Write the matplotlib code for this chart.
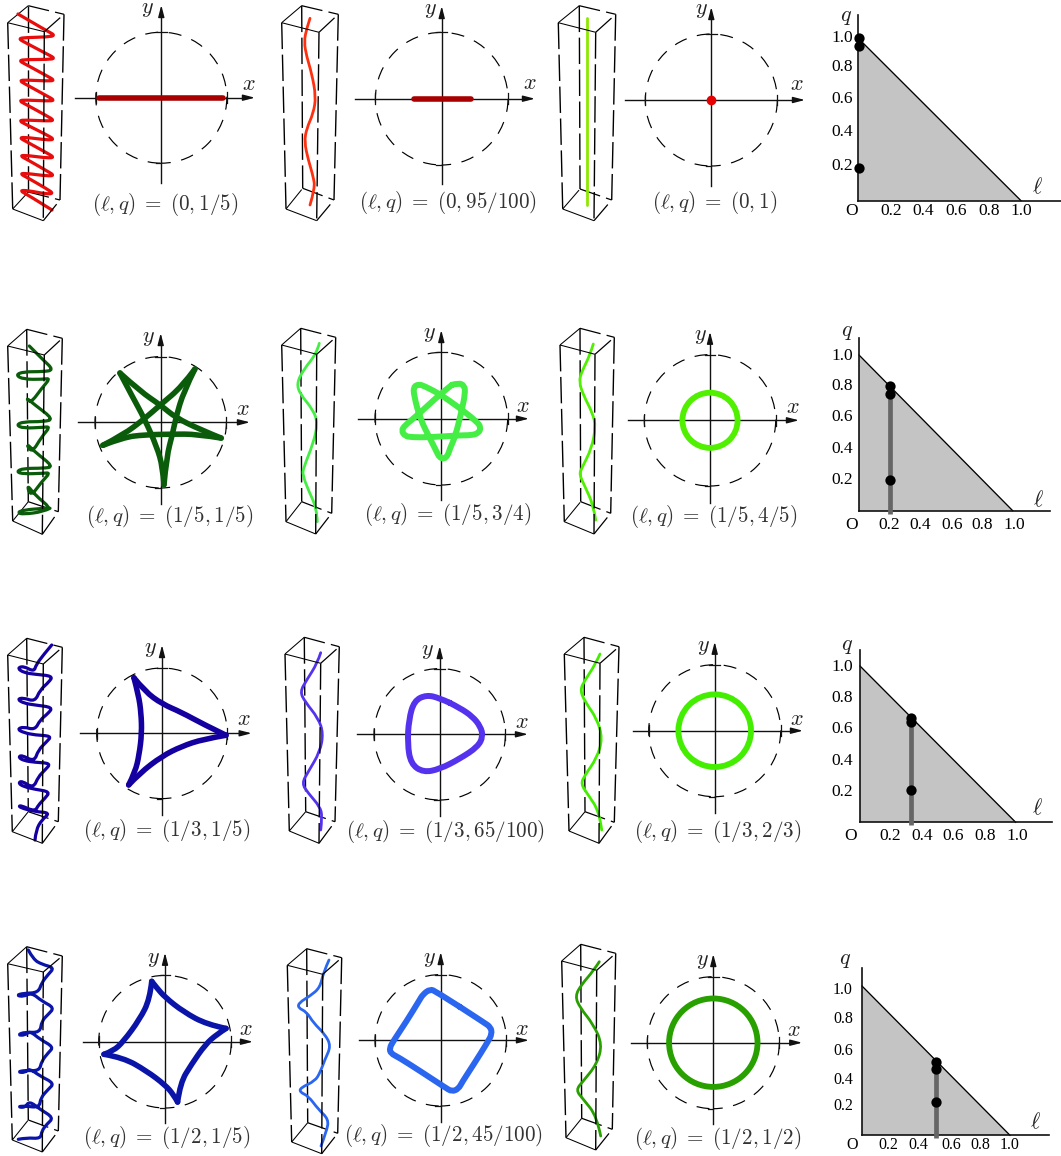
import matplotlib
matplotlib.use("Agg")
import matplotlib.pyplot as plt
from matplotlib.patches import Circle, PathPatch, Polygon
from matplotlib.path import Path

plt.rcParams["mathtext.fontset"] = "cm"

W, H = 1061, 1156

# captions
captions = [
    [r"$(\ell,q)\;=\;(0,1/5)$", r"$(\ell,q)\;=\;(0,95/100)$", r"$(\ell,q)\;=\;(0,1)$"],
    [r"$(\ell,q)\;=\;(1/5,1/5)$", r"$(\ell,q)\;=\;(1/5,3/4)$", r"$(\ell,q)\;=\;(1/5,4/5)$"],
    [r"$(\ell,q)\;=\;(1/3,1/5)$", r"$(\ell,q)\;=\;(1/3,65/100)$", r"$(\ell,q)\;=\;(1/3,2/3)$"],
    [r"$(\ell,q)\;=\;(1/2,1/5)$", r"$(\ell,q)\;=\;(1/2,45/100)$", r"$(\ell,q)\;=\;(1/2,1/2)$"],
]

# orbits in the plane, read in units of the dashed circle
orbit_0_1 = [(-0.945, 0.0), (0.945, 0.0)]
orbit_0_2 = [(-0.42, 0.0), (0.44, 0.0)]
star_1_1 = [(.52, .81), (.32, .54), (0, .27), (-.25, .05), (-.57, -.19), (-.88, -.35),
            (-.57, -.23), (-.25, -.19), (.18, -.18), (.55, -.18), (.92, -.24),
            (.60, -.11), (.23, .07), (0, .26), (-.31, .47), (-.62, .75),
            (-.42, .37), (-.25, .06), (-.06, -.37), (.03, -.68), (.05, -.95),
            (.09, -.52), (.18, -.18), (.23, .07), (.35, .47), (.52, .81)]
star_1_2 = [(.16, .51), (-.02, .37), (-.35, .06), (-.55, -.10), (-.60, -.18), (-.55, -.26), (-.45, -.28),
            (-.17, -.28), (.28, -.25), (.45, -.25), (.56, -.22), (.60, -.13), (.53, -.04), (.28, .16),
            (-.02, .37), (-.25, .49), (-.34, .52), (-.42, .48), (-.41, .34), (-.32, 0), (-.17, -.30),
            (-.07, -.50), (-.03, -.58), (.04, -.61), (.10, -.55), (.13, -.45), (.21, -.27), (.31, .13),
            (.36, .38), (.35, .50), (.26, .54), (.16, .51)]
tri_2_1 = [(.98, -.03), (.63, .14), (.30, .32), (0, .45), (-.26, .64), (-.43, .85),
           (-.36, .59), (-.32, .31), (-.31, 0), (-.35, -.33), (-.41, -.59), (-.51, -.79),
           (-.34, -.61), (0, -.35), (.30, -.20), (.63, -.09), (.98, -.03)]
tri_2_2 = [(.15, .48), (0, .55), (-.20, .60), (-.39, .51), (-.47, .22), (-.49, -.14), (-.44, -.45),
           (-.25, -.58), (0, -.53), (.31, -.37), (.58, -.19), (.66, -.03), (.62, .12), (.50, .27),
           (.31, .40), (.15, .48)]
astro_3_1 = [(.92, .20), (.63, .26), (.28, .45), (0, .67), (-.13, .82), (-.20, .91),
             (-.23, .64), (-.38, .34), (-.63, 0), (-.78, -.14), (-.92, -.19),
             (-.63, -.24), (-.28, -.44), (0, -.65), (.13, -.80), (.19, -.91),
             (.23, -.62), (.40, -.34), (.61, -.04), (.78, .11), (.92, .20)]
square_3_2 = [(.29, .51), (.66, .27), (.76, .20), (.78, .10), (.72, -.02), (.50, -.37),
              (.33, -.63), (.27, -.74), (.17, -.78), (.07, -.72), (-.31, -.47),
              (-.64, -.26), (-.76, -.20), (-.78, -.12), (-.72, -.01), (-.52, .29),
              (-.33, .60), (-.27, .70), (-.16, .78), (-.07, .74), (.29, .51)]
# where the sharp tips sit in the lists above
tips = {(1, 0): [0, 5, 10, 15, 20, 25], (2, 0): [0, 5, 11, 16], (3, 0): [0, 5, 10, 15, 20]}

# radius of the circular orbits
ring_radius = {(1, 2): 0.42, (2, 2): 0.55, (3, 2): 0.67}

# curves next to the orbits, read as picture positions
helix_0_0 = [(18, 14), (47, 31), (55.5, 35.5), (47, 37), (27, 37.5), (18, 38.5), (26, 43),
             (47, 54), (55.5, 58.5), (47, 59.5), (27, 59.5), (18.5, 60.5), (27, 65),
             (47, 76), (55, 80.5), (47, 81), (27, 80), (19, 80.5), (27, 85),
             (47, 96), (55, 100.5), (47, 101), (27, 100), (18.5, 100.5), (27, 105),
             (47, 116), (54.5, 120.5), (47, 121), (27, 120), (18.5, 120.5), (27, 125),
             (47, 135), (54.5, 139.5), (47, 140), (28, 137.5), (19, 137.5), (27, 142),
             (47, 153), (54.5, 157.5), (47, 158), (28, 155.5), (19.5, 155.5), (28, 160),
             (47, 171), (54.5, 175.5), (47, 176), (28, 173.5), (19.5, 173.5), (28, 178),
             (47, 189), (53.5, 193.5), (46, 194), (28, 190.5), (19.5, 190.5), (28, 195),
             (52, 210)]
wave_0_1 = [(310, 18.3), (306.7, 28.3), (304, 41.7), (306.7, 56.7), (311.7, 73.3), (316, 96.7), (313.3, 113.3),
            (306.7, 128.3), (304.3, 141.7), (308.3, 160), (313.3, 176.7), (315, 188.3), (310, 205)]
wave_0_2 = [(587.3, 18.3), (587.3, 205)]
helix_1_0 = [(29.3, 346), (35, 351.7), (43.3, 360), (53.7, 370), (43.3, 371.7), (23.3, 371.7), (15.7, 375),
             (23.3, 379.3), (43.3, 379.3), (50.3, 378.3), (41.7, 388.3), (30.7, 403.3), (25.7, 397.3), (35, 405),
             (53.7, 419.3), (43.3, 421.7), (23.3, 421.7), (16.3, 425), (23.3, 428.3), (43.3, 427.3), (50.3, 426.7),
             (41.7, 436.7), (31.7, 453.3), (25.7, 442.7), (35, 452), (53.7, 466.7), (43.3, 468.3), (23.3, 468.3),
             (16.3, 471.7), (23.3, 474), (43.3, 473.3), (50.3, 472.7), (41.7, 481.7), (30.7, 496.7), (26.7, 484.3),
             (35, 495), (51, 508.3), (43.3, 508.3), (23.3, 510), (17.3, 512.7), (23.3, 514.3), (43.3, 511.7), (50, 508.3)]
wave_1_1 = [(319.3, 343.3), (316.7, 353.3), (303.3, 370), (296.7, 383.3), (300, 394), (313.3, 410), (317.7, 423.3),
            (313.3, 443.3), (303.3, 468.3), (302.7, 475), (308.3, 490), (316.7, 508.3), (317.3, 521.7)]
wave_1_2 = [(593.3, 344), (590, 355), (581.7, 371.7), (579, 381.7), (583.3, 395), (592.7, 413.3), (595.7, 426.7),
            (591.7, 448.3), (581.7, 468.3), (579.3, 474.3), (585, 486.7), (593.3, 505), (595.7, 520)]
helix_2_0 = [(51.7, 645), (43.3, 655), (36, 665), (34, 671.7), (23.3, 666), (17.3, 668.3), (24, 672.7), (35, 674.3),
             (52.7, 676), (49.3, 681.7), (40, 690), (35, 701.7), (23.3, 697.7), (17.3, 699.3), (24, 703.3), (35, 705),
             (52.7, 707.3), (48.3, 713.3), (40, 720), (35, 730), (23.3, 726.7), (17.3, 729.3), (24, 732.7), (35, 735),
             (51.7, 736), (46.7, 741.7), (38.3, 750), (34.3, 761.7), (21.7, 755), (18.3, 757.3), (24, 760.7), (35, 762.3),
             (51, 763.3), (45, 770), (38.3, 776.7), (33.3, 788.3), (21.7, 780.7), (18.3, 783.3), (24, 786.7), (35, 789.3),
             (50, 791.7), (45, 798.3), (38.3, 805), (35, 811.7), (20, 805), (19, 807.3), (35, 811.7), (50.3, 812.7),
             (41.7, 820), (36, 830), (35, 840)]
wave_2_1 = [(320.7, 652.7), (317.3, 663.3), (306.7, 680), (300, 691.7), (305, 701.7), (318.3, 718.3), (323.3, 733.3),
            (320, 751.7), (308.3, 771.7), (301.7, 783.3), (308.3, 793.3), (320, 806.7), (322.3, 816.7), (320.7, 830)]
wave_2_2 = [(600, 654), (595, 665), (585, 680), (580, 690), (585, 701.7), (596.7, 718.3), (602.7, 738.3),
            (596.7, 758.3), (585, 775), (580.7, 784), (588.3, 795), (599.3, 811.7), (601.7, 830)]
helix_3_0 = [(28.3, 950), (33.3, 959.3), (41.7, 964.3), (54.3, 967.7), (48.3, 974.3), (41.7, 982.7), (38.3, 992.7),
             (23.3, 993.3), (16.3, 995.3), (23.3, 996.7), (31.7, 992.7), (41.7, 1001), (54.3, 1007.7), (48.3, 1014.3),
             (41.7, 1021), (40, 1032.7), (25, 1032), (17.3, 1035), (25, 1035.3), (30, 1031), (40, 1039.3), (53.7, 1047),
             (48.3, 1052.7), (41.7, 1061), (39.3, 1071), (25, 1070.3), (17.3, 1072), (25, 1072.7), (29.3, 1068.3),
             (40, 1076), (54.3, 1083.3), (48.3, 1089.3), (40.7, 1097.7), (39.3, 1107.7), (25, 1106), (17.3, 1106.7),
             (25, 1107.7), (29.3, 1101), (40, 1109.3), (53.7, 1117.7), (46.7, 1124.3), (41.7, 1131), (40.7, 1138.7),
             (26.7, 1137.7), (18.3, 1139.3)]
wave_3_1 = [(329, 960), (323.3, 972.7), (320, 987.7), (310, 996), (299, 1002.7), (298, 1007.7), (306.7, 1012),
            (313.3, 1022.7), (325, 1034.3), (331, 1046), (325, 1059.3), (320, 1072.7), (315, 1081), (300.7, 1087.7),
            (299.7, 1092), (308.3, 1096), (318.3, 1109.3), (328.7, 1119.3), (326.7, 1131), (321, 1146)]
wave_3_2 = [(599.3, 961.7), (593.3, 971), (581.7, 984.3), (575, 996), (580, 1007.7), (593.3, 1024.3), (602.3, 1044.3),
            (596.7, 1064.3), (583.3, 1081), (575.7, 1090), (583.3, 1099.3), (596.7, 1116), (600.7, 1136)]

# parameter points on the triangles
param_l = [0.005, 0.2, 0.33, 0.498]
param_q = [[1.0, 0.95, 0.2], [0.8, 0.75, 0.2], [0.67, 0.64, 0.207], [0.49, 0.447, 0.22]]
bar_top = [None, 0.75, 0.64, 0.447]
tick_text = ["0.2", "0.4", "0.6", "0.8", "1.0"]

colors = [
    ["#e80c0c", "#ff3010", "#8ee800"],
    ["#0a5c0a", "#44ee44", "#50f000"],
    ["#1400a0", "#5533ee", "#44ee00"],
    ["#0a14a8", "#2a66f0", "#28a000"],
]
orbit_colors = [
    ["#a80000", "#a80000", "#e80000"],
    ["#0a5c0a", "#44ee44", "#50f000"],
    ["#1400a0", "#5533ee", "#44ee00"],
    ["#0a14a8", "#2a66f0", "#28a000"],
]

# layout, all in picture pixels
# centre x, centre y, radius, x axis from/to, y axis from/to, x label, y label, caption
orbit_layout = [
    [(161.3, 97.7, 65.5, 75, 255, 183, 5, (249, 84), (147, 9), (165, 205)),
     (441.7, 98.7, 66.3, 355, 535, 184, 6, (530, 83), (430, 10), (448, 203)),
     (711.3, 100, 66, 625, 805, 186, 7, (797, 84), (701, 10), (715, 202))],
    [(160.7, 422.3, 65.7, 78, 250, 504, 333, (243, 409), (148, 338), (170, 517)),
     (441.3, 418.7, 66.3, 358, 529, 500, 330, (522.7, 406), (429, 334), (448, 514)),
     (710, 420.3, 65.7, 627.7, 799, 502.7, 331.7, (793, 407), (700, 336), (714, 517))],
    [(162, 733.3, 65.3, 80, 251.7, 815, 645, (244, 719), (150.7, 649), (166.7, 830)),
     (439.7, 734.3, 65.7, 357, 528, 816, 646, (521.7, 721.7), (427.7, 650.7), (445, 831.7)),
     (714.7, 730.7, 66, 632.7, 803, 812.7, 641.7, (797, 719), (703, 647), (718, 831.7))],
    [(165, 1041.7, 66.3, 82.7, 253, 1123, 952.7, (246, 1028.7), (153, 959), (167, 1137.7)),
     (440.7, 1040.3, 65.7, 359, 529, 1122, 952, (521.7, 1029), (429, 958.7), (443, 1135.3)),
     (713.3, 1042.7, 66, 631, 802.3, 1124, 954, (794, 1030), (702, 961), (717.7, 1139))],
]

# top left/back/right/front, then bottom left/back/right/front
box_layout = [
    [[(7.7, 22.7), (28.3, 5.7), (64, 14.3), (44.3, 31.7), (12.7, 209), (28.3, 192), (60, 200), (43.3, 220.7)],
     [(281.7, 22.7), (301.7, 5.7), (338.3, 14.3), (319, 32.3), (286, 209), (302.7, 188.3), (334, 200), (316.7, 220.7)],
     [(558.3, 22.7), (579.3, 5.7), (615.7, 14.3), (595.7, 32.3), (562.7, 209), (580, 189), (611.7, 200), (594, 220.7)]],
    [[(7.7, 346), (26.7, 329.3), (62.3, 338.3), (44.3, 355), (12.7, 521), (28.3, 501.7), (58.3, 511.7), (42.3, 534.3)],
     [(281.7, 345), (300.7, 328.3), (335.7, 337.3), (316.7, 354.3), (286, 521.7), (301.7, 501.7), (331.7, 513.3), (315.7, 534)],
     [(560, 345), (580, 328.3), (614.3, 337.3), (595, 354.3), (564.3, 521.7), (580.7, 501.7), (610.7, 513.3), (594, 534)]],
    [[(7.7, 655), (26.7, 638.3), (62.3, 647.3), (43.3, 664), (12.3, 831.7), (28.3, 811.7), (58.3, 821.7), (42.3, 843.3)],
     [(285, 654), (304.3, 637.3), (339.3, 646.7), (320.7, 663.3), (289.3, 831), (305.7, 811.7), (335, 821.7), (319, 843.3)],
     [(564.3, 654), (584, 637.3), (619, 646.7), (600, 663.3), (569, 831), (585, 811.7), (614.3, 822.3), (599, 843.3)]],
    [[(7.7, 963.7), (26.7, 946.7), (62.3, 956), (43.3, 972), (12.3, 1140), (28.3, 1120), (58.3, 1131), (42.3, 1152)],
     [(287.3, 965.3), (306.7, 948.7), (341.7, 957.7), (322.7, 974.3), (291.7, 1142), (307.7, 1122.7), (337.7, 1133.3), (321.7, 1153.7)],
     [(561.7, 961), (580.7, 944.3), (615.7, 953.3), (596.7, 970.3), (566, 1137.7), (581.7, 1118.3), (612.3, 1129.3), (595.7, 1150)]],
]

# origin x/y, l=1 x, q=1 y, q axis top, l axis right, x tick label y, x tick label xs, y tick label ys, q, l, O, font size
tri_layout = [
    (858.3, 200.7, 1021, 38.3, 15, 1061, 211, [890.7, 923, 956, 988.7, 1021.7], [166, 132, 99, 67, 38], (846, 17), (1037, 187), (851.7, 211), 12.5),
    (859, 510.7, 1012.7, 355, 338, 1050, 525, [889, 920, 951.7, 982, 1014], [480, 449, 417, 386, 355.7], (846.7, 331.7), (1038, 500), (851.7, 525), 12.5),
    (860, 822.3, 1015.7, 666, 650, 1051.7, 836, [890, 921.7, 953, 985, 1017], [792, 761, 729, 698, 667], (846.7, 646), (1037, 808), (851, 836), 12.5),
    (862, 1135.3, 1010, 986, 968, 1049, 1145, [888, 918, 951, 980, 1010], [1106, 1080, 1051, 1019, 990], (845, 960), (1035, 1122), (852, 1145), 11.5),
]

fig = plt.figure(figsize=(W / 100, H / 100), dpi=100)


def px_axes(left, top, right, bottom, xlim, ylim):
    ax = fig.add_axes([left / W, 1 - bottom / H, (right - left) / W, (bottom - top) / H])
    ax.set_xlim(*xlim)
    ax.set_ylim(*ylim)
    ax.axis("off")
    return ax


# whole picture, for boxes and text
canvas = px_axes(0, 0, W, H, (0, W), (H, 0))


def smooth(pts):
    # quadratic path with the read points as control points
    verts = [pts[0]]
    codes = [Path.MOVETO]
    for i in range(1, len(pts) - 1):
        nxt = pts[i + 1]
        if i < len(pts) - 2:
            nxt = ((pts[i][0] + pts[i + 1][0]) / 2, (pts[i][1] + pts[i + 1][1]) / 2)
        verts += [pts[i], nxt]
        codes += [Path.CURVE3, Path.CURVE3]
    if len(pts) == 2:
        verts.append(pts[1])
        codes.append(Path.LINETO)
    return Path(verts, codes)


def edge(p, q, lw=0.75, dash=None, zorder=2):
    style = "-" if dash is None else (0, dash)
    canvas.plot([p[0], q[0]], [p[1], q[1]], color="black", lw=lw, ls=style, zorder=zorder,
                dash_capstyle="butt", solid_capstyle="butt")


def draw_box(corners, curve, color, is_helix):
    tl, tb, tr, tf, bl, bb, br, bf = corners
    long_dash = (19, 4)
    thin_dash = (17, 5)
    edge(tb, bb, 1.0, long_dash, 2)
    edge(tl, bl, 1.0, long_dash, 2)
    edge(tr, br, 1.0, long_dash, 2)
    edge(tl, tb)
    edge(tb, tr, 0.9, thin_dash)
    edge(bl, bb, 0.75, (24, 12))
    edge(bb, br, 0.9, thin_dash)
    lw = 2.3 if is_helix else 2.0
    canvas.add_patch(PathPatch(smooth(curve), fc="none", ec=color, lw=lw, zorder=3, capstyle="round", joinstyle="round"))
    edge(tl, tf, zorder=4)
    edge(tf, tr, 0.9, thin_dash, 4)
    edge(tf, bf, 1.0, long_dash, 4)
    edge(bl, bf, zorder=4)
    edge(bf, br, 0.9, thin_dash, 4)


def draw_orbit(layout, row, col, curve, color):
    cx, cy, r, x0, x1, y0, y1, xlab, ylab, cap = layout
    m = 1.5
    ax = px_axes(cx - m * r, cy - m * r, cx + m * r, cy + m * r, (-m, m), (-m, m))
    ax.add_patch(Circle((0, 0), 1.0, fc="none", ec="black", lw=0.85, ls=(3, (11, 9)), zorder=1))
    axis_c = "#111111"
    tick = 0.08
    ax.plot([(x0 - cx) / r, (x1 - 8 - cx) / r], [0, 0], color=axis_c, lw=1.0, clip_on=False, zorder=2)
    ax.plot([0, 0], [(cy - y0) / r, (cy - y1 - 8) / r], color=axis_c, lw=1.0, clip_on=False, zorder=2)
    arrow = dict(arrowstyle="-|>,head_length=0.7,head_width=0.18", color=axis_c, lw=1.0, shrinkA=0, shrinkB=0)
    ax.annotate("", xy=((x1 - cx) / r, 0), xytext=((x1 - 10 - cx) / r, 0), arrowprops=arrow, annotation_clip=False)
    ax.annotate("", xy=(0, (cy - y1) / r), xytext=(0, (cy - y1 - 10) / r), arrowprops=arrow, annotation_clip=False)
    ax.plot([-1, -1], [-tick, tick], color=axis_c, lw=0.9, zorder=2)
    ax.plot([1, 1], [-tick, tick], color=axis_c, lw=0.9, zorder=2)
    ax.plot([-tick, tick], [1, 1], color=axis_c, lw=0.9, zorder=2)
    ax.plot([-tick, 0], [-1, -1], color=axis_c, lw=0.9, zorder=2)
    if (row, col) in ring_radius:
        ax.add_patch(Circle((0, 0), ring_radius[(row, col)], fc="none", ec=color, lw=4.2, zorder=3))
    elif row == 0 and col == 2:
        ax.plot([0], [0], "o", color=color, ms=6, zorder=3)
    elif row == 0:
        xs, ys = zip(*curve)
        ax.plot(xs, ys, color=color, lw=4.0, zorder=3, solid_capstyle="round")
    elif (row, col) in tips:
        marks = tips[(row, col)]
        for a, b in zip(marks[:-1], marks[1:]):
            ax.add_patch(PathPatch(smooth(curve[a:b + 1]), fc="none", ec=color, lw=4.0, zorder=3,
                                   capstyle="round", joinstyle="round"))
    else:
        ax.add_patch(PathPatch(smooth(curve), fc="none", ec=color, lw=4.3, zorder=3, capstyle="round"))
    canvas.text(*xlab, "$x$", fontsize=16, ha="center", va="center", color="#222222")
    canvas.text(*ylab, "$y$", fontsize=16, ha="center", va="center", color="#222222")
    canvas.text(*cap, captions[row][col], fontsize=15.2, ha="center", va="center", color="#333333")


def draw_triangle(layout, row):
    ox, oy, x1, y1, ytop, xright, xlab_y, xlabs, ylabs, qpos, lpos, opos, fs = layout
    w, h = x1 - ox, oy - y1
    ax = px_axes(ox, y1, x1, oy, (0, 1), (0, 1))
    ax.add_patch(Polygon([(0, 0), (0, 1), (1, 0)], closed=True, fc="#c4c4c4", ec="none", zorder=1))
    ax.plot([0, 1], [1, 0], color="black", lw=0.95, clip_on=False, zorder=2)
    ax.plot([0, 0], [0, (oy - ytop) / h], color="#111111", lw=1.2, clip_on=False, zorder=2)
    ax.plot([0, (xright - ox) / w], [0, 0], color="#111111", lw=1.2, clip_on=False, zorder=2)
    if bar_top[row] is not None:
        ax.plot([param_l[row]] * 2, [-3 / h, bar_top[row]], color="#666666", lw=3.4,
                clip_on=False, zorder=3, solid_capstyle="butt")
    ax.plot([param_l[row]] * 3, param_q[row], "o", color="black", ms=7.4, mew=0, clip_on=False, zorder=4)
    for t, x in zip(tick_text, xlabs):
        canvas.text(x, xlab_y, t, fontsize=fs, family="Liberation Serif", ha="center", va="center", zorder=5)
    for t, y in zip(tick_text, ylabs):
        canvas.text(853, y, t, fontsize=fs, family="Liberation Serif", ha="right", va="center", zorder=5)
    canvas.text(*opos, "O", fontsize=fs, family="Liberation Serif", ha="center", va="center", zorder=5)
    canvas.text(*qpos, "$q$", fontsize=16, ha="center", va="center", color="#222222", zorder=5)
    canvas.text(*lpos, r"$\ell$", fontsize=16, ha="center", va="center", color="#222222", zorder=5)


side_curves = [
    [helix_0_0, wave_0_1, wave_0_2],
    [helix_1_0, wave_1_1, wave_1_2],
    [helix_2_0, wave_2_1, wave_2_2],
    [helix_3_0, wave_3_1, wave_3_2],
]
orbit_curves = [
    [orbit_0_1, orbit_0_2, None],
    [star_1_1, star_1_2, None],
    [tri_2_1, tri_2_2, None],
    [astro_3_1, square_3_2, None],
]

for row in range(4):
    for col in range(3):
        draw_box(box_layout[row][col], side_curves[row][col], colors[row][col], col == 0)
        draw_orbit(orbit_layout[row][col], row, col, orbit_curves[row][col], orbit_colors[row][col])
    draw_triangle(tri_layout[row], row)

plt.savefig("out.png", dpi=100)
